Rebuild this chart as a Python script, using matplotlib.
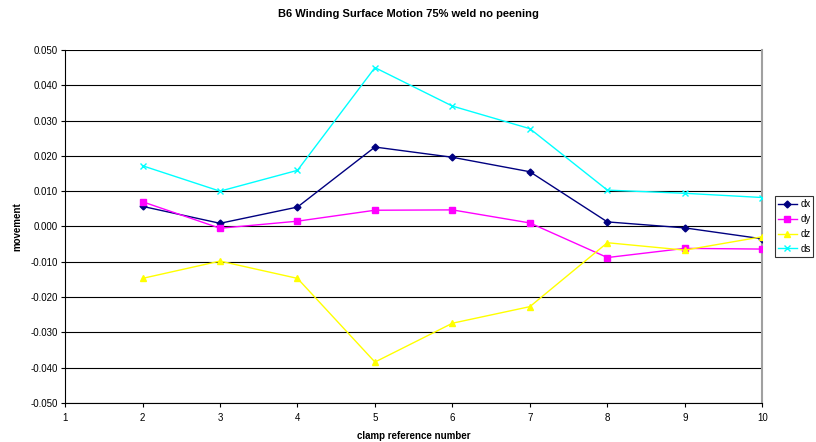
import matplotlib
matplotlib.use("Agg")
import matplotlib.pyplot as plt

plt.rcParams['font.family'] = ['Liberation Sans', 'DejaVu Sans']

clamps = [2, 3, 4, 5, 6, 7, 8, 9, 10]
dx = [0.0057, 0.0009, 0.0055, 0.0225, 0.0196, 0.0155, 0.0013, -0.0004, -0.0035]
dy = [0.0070, -0.0005, 0.0015, 0.0046, 0.0047, 0.0010, -0.0088, -0.0062, -0.0064]
dz = [-0.0147, -0.0098, -0.0147, -0.0384, -0.0274, -0.0227, -0.0046, -0.0067, -0.0029]
ds = [0.0172, 0.0100, 0.0159, 0.0450, 0.0341, 0.0277, 0.0103, 0.0094, 0.0082]

series = [
    ('dx', dx, '#000080', 'D', 3.5),
    ('dy', dy, '#FF00FF', 's', 4),
    ('dz', dz, '#FFFF00', '^', 4.5),
    ('ds', ds, '#00FFFF', 'x', 4.5),
]

fig = plt.figure(figsize=(8.16, 4.42), dpi=100)
ax = fig.add_axes([0.0797, 0.0882, 0.8545, 0.7988])

yticks = [i / 100 for i in range(-5, 6)]
for y in yticks:
    ax.axhline(y, color='#000000', lw=0.8, zorder=0)

for name, vals, col, mk, ms in series:
    ax.plot(clamps, vals, color=col, marker=mk, markersize=ms, lw=1.0,
            markeredgewidth=1.0, label=name, zorder=3)

ax.set_xlim(1, 10)
ax.set_ylim(-0.05, 0.05)
ax.set_xticks(range(1, 11))
ax.set_yticks(yticks)
ax.set_yticklabels(['%.3f' % y for y in yticks])
ax.tick_params(labelsize=7, length=3, width=0.8, direction='out', pad=2)
ax.tick_params(axis='x', pad=4)

ax.spines['top'].set_visible(False)
ax.spines['right'].set_color('#a0a0a0')
ax.spines['right'].set_linewidth(1.5)

ax.set_xlabel('clamp reference number', fontsize=7, fontweight='bold', labelpad=6)
ax.set_ylabel('movement', fontsize=7, fontweight='bold', labelpad=6)
fig.suptitle('B6 Winding Surface Motion 75% weld no peening', fontsize=8,
             fontweight='bold', x=0.5, y=0.98)

leg = ax.legend(loc='center left', bbox_to_anchor=(1.018, 0.5), fontsize=7,
                frameon=True, fancybox=False, edgecolor='black',
                handlelength=2.0, borderpad=0.3, labelspacing=0.5,
                handletextpad=0.3, borderaxespad=0)
leg.get_frame().set_linewidth(0.8)

fig.savefig('out.png', dpi=100)
